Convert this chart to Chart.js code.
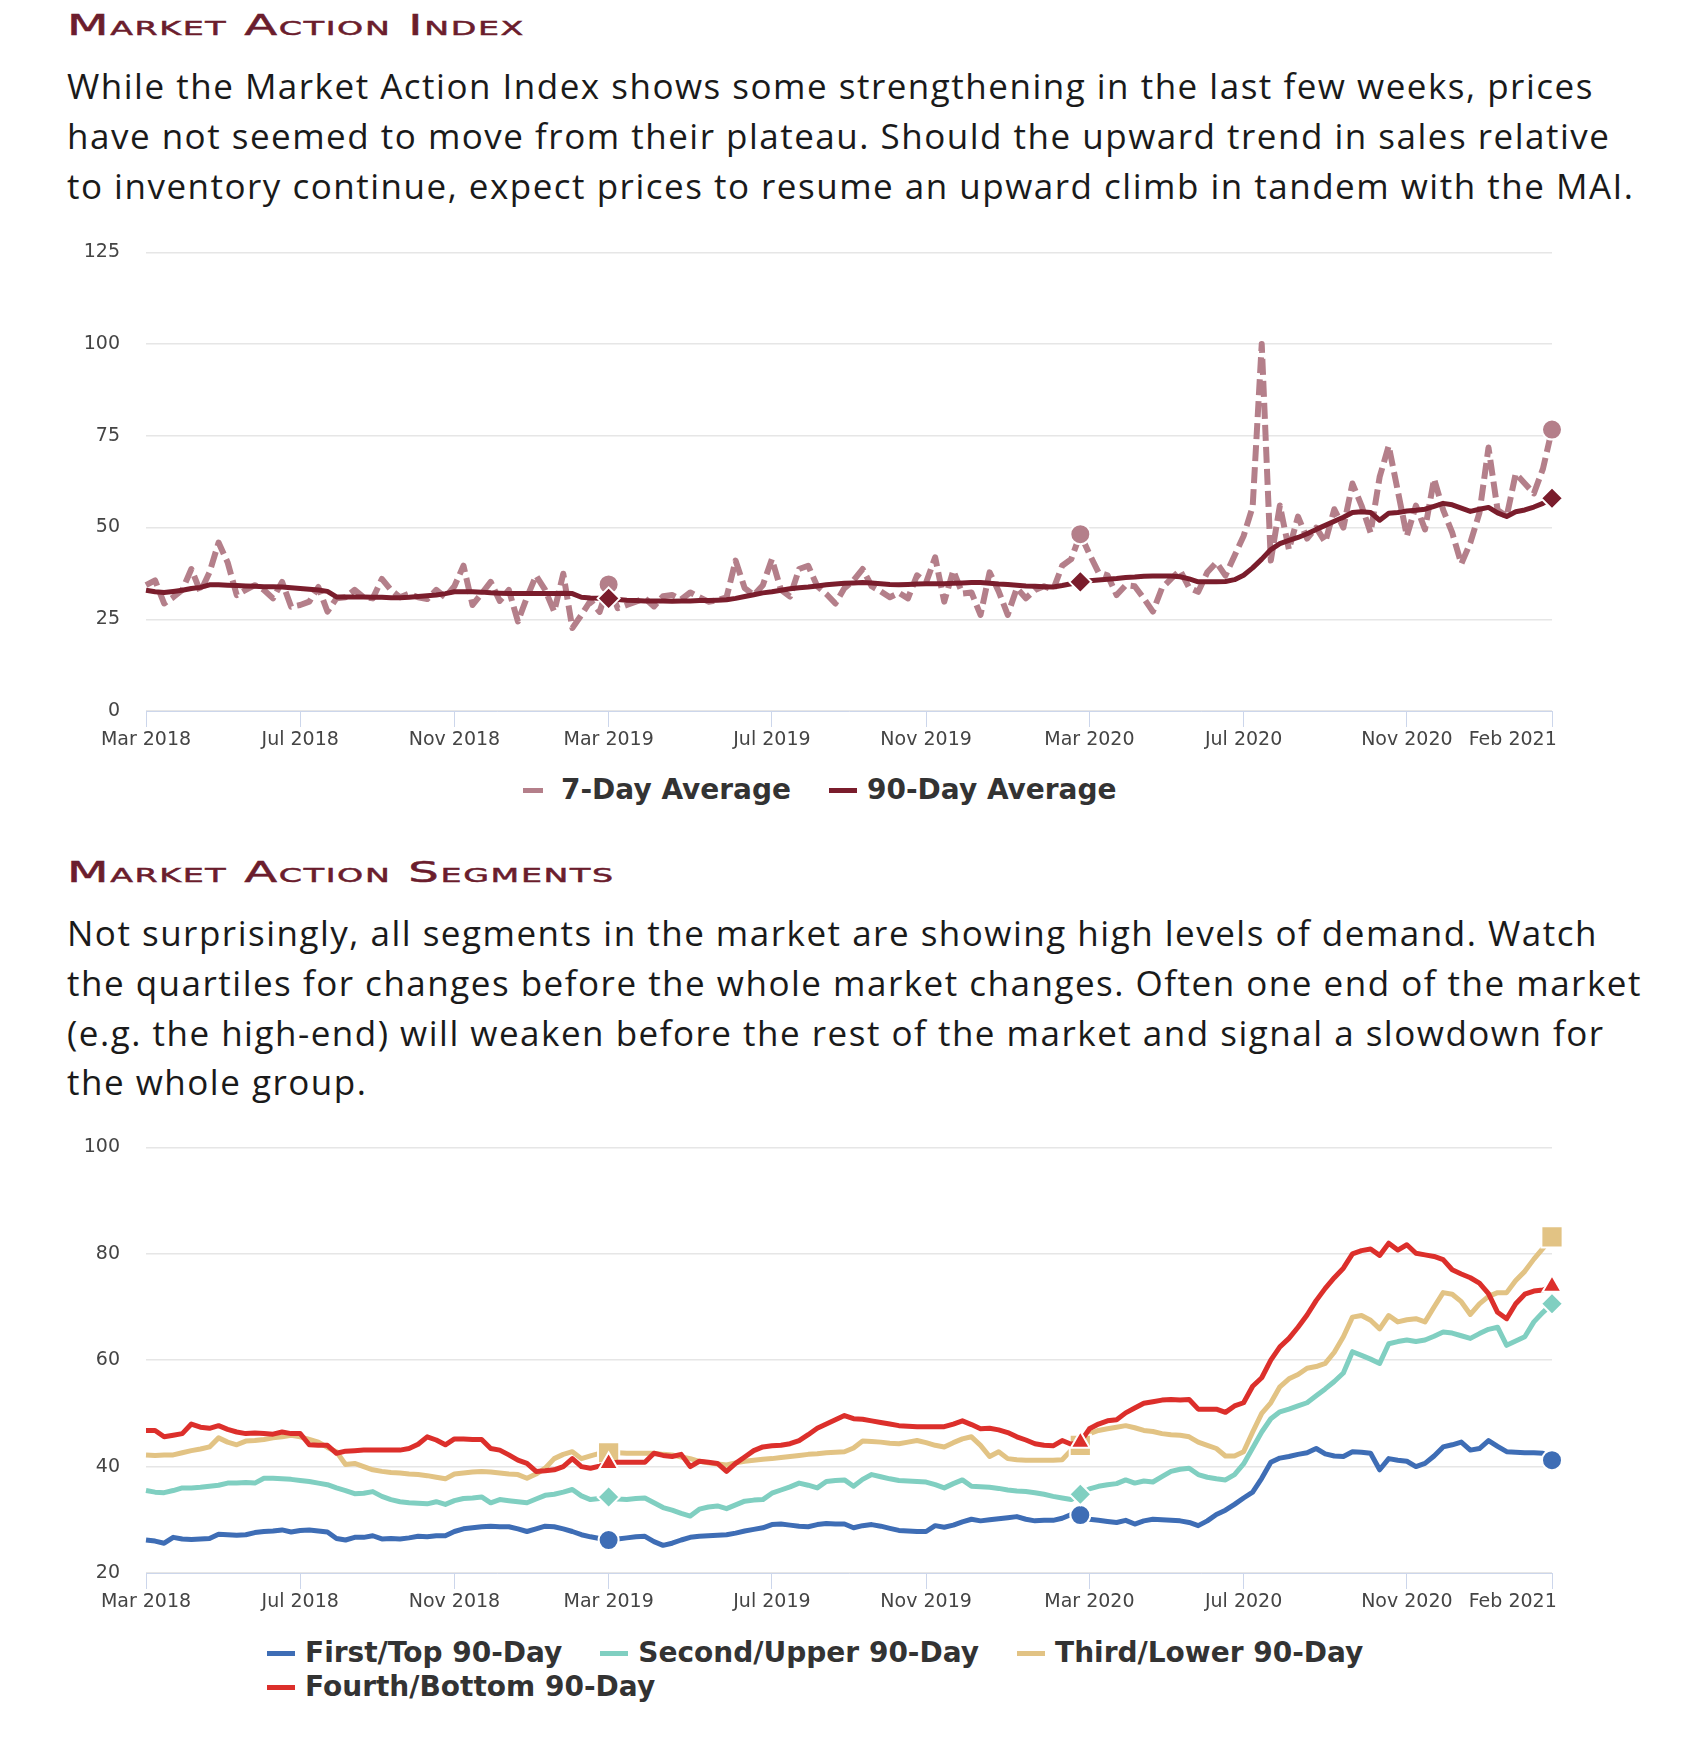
<!DOCTYPE html>
<html>
<head>
<meta charset="utf-8">
<script src="https://cdn.jsdelivr.net/npm/chart.js"></script>
<style>
  html, body { margin: 0; padding: 0; background: #fff; }
  body { width: 1700px; height: 1742px; position: relative; overflow: hidden; }
  .title { position: absolute; left: 67px; font-family: 'DejaVu Sans'; font-size: 29px; line-height: 29px;
    font-variant: small-caps; letter-spacing: 1px; color: #6b1d2d; transform: scaleX(1.66);
    transform-origin: 0 0; white-space: nowrap; -webkit-text-stroke: 0.5px #6b1d2d; }
  .para { position: absolute; left: 67px; font-family: 'Open Sans'; font-size: 35px; line-height: 49.8px;
    letter-spacing: 1.5px; color: #1a1a1a; white-space: nowrap; }
  canvas { position: absolute; left: 0; }
  .legend { position: absolute; display: flex; flex-wrap: wrap; column-gap: 38px; font-family: 'DejaVu Sans';
    font-weight: bold; font-size: 28px; line-height: 34px; color: #333; }
  .legend .item { display: flex; align-items: center; white-space: nowrap; }
  .legend .sym { display: inline-block; width: 28px; height: 5px; margin-right: 10px; }
</style>
</head>
<body>
<div class="title" style="top:11px">Market Action Index</div>
<div class="para" style="top:61px">While the Market Action Index shows some strengthening in the last few weeks, prices<br>have not seemed to move from their plateau. Should the upward trend in sales relative<br>to inventory continue, expect prices to resume an upward climb in tandem with the MAI.</div>
<canvas id="mai" width="1700" height="545" style="top:215px"></canvas>
<div id="mai-legend" class="legend" style="left:523px; top:773px"></div>

<div class="title" style="top:858px">Market Action Segments</div>
<div class="para" style="top:908px">Not surprisingly, all segments in the market are showing high levels of demand. Watch<br>the quartiles for changes before the whole market changes. Often one end of the market<br>(e.g. the high-end) will weaken before the rest of the market and signal a slowdown for<br>the whole group.</div>
<canvas id="seg" width="1700" height="512" style="top:1110px"></canvas>
<div id="seg-legend" class="legend" style="left:267px; top:1636px; width:1170px"></div>

<script>
// weekly points, first week of March 2018 to late Feb 2021
const weeks = [];
for (let d = new Date(2018, 2, 4); weeks.length < 156; d.setDate(d.getDate() + 7)) {
  weeks.push(d.toISOString().slice(0, 10));
}

const tickIndex = [0, 17, 34, 51, 69, 86, 104, 121, 139, 155];
const tickLabels = ['Mar 2018', 'Jul 2018', 'Nov 2018', 'Mar 2019', 'Jul 2019',
  'Nov 2019', 'Mar 2020', 'Jul 2020', 'Nov 2020', 'Feb 2021'];
const markerIndex = [51, 103, 155];

const sevenDay = [
  34.3, 35.6, 29.3, 31.0, 33.0, 38.7, 32.5, 37.8, 45.9, 40.5,
  31.6, 33.0, 34.3, 33.0, 30.7, 35.2, 28.4, 28.9, 29.8, 33.8,
  27.1, 30.7, 31.0, 33.0, 31.0, 30.7, 36.0, 33.0, 31.0, 32.0,
  31.0, 30.5, 33.0, 31.0, 34.0, 39.6, 28.9, 32.0, 35.2, 30.0,
  33.0, 24.4, 31.0, 36.9, 33.0, 27.1, 37.4, 22.6, 26.2, 30.0,
  27.0, 34.5, 28.0, 28.9, 29.8, 30.7, 28.5, 31.3, 31.6, 30.4,
  32.3, 31.0, 29.8, 30.2, 31.0, 41.0, 33.5, 31.6, 34.3, 41.4,
  33.0, 31.2, 38.7, 39.6, 34.0, 31.9, 29.3, 33.5, 35.6, 38.7,
  34.0, 32.6, 31.0, 32.2, 30.7, 37.0, 35.0, 41.9, 29.8, 38.3,
  32.0, 32.3, 26.2, 37.8, 32.6, 26.2, 33.5, 30.7, 33.0, 34.0,
  33.0, 39.6, 41.4, 48.2, 42.8, 37.8, 37.0, 31.6, 34.3, 34.0,
  30.7, 27.1, 33.5, 36.0, 38.3, 33.6, 32.5, 37.8, 40.5, 36.9,
  42.3, 47.7, 55.7, 100.0, 41.0, 56.0, 44.0, 53.0, 47.0, 50.0,
  46.0, 55.0, 50.0, 62.0, 56.0, 48.6, 63.8, 72.3, 60.0, 47.7,
  56.0, 49.5, 63.3, 54.8, 48.6, 40.1, 45.9, 54.0, 71.8, 54.8,
  53.0, 64.7, 62.0, 59.3, 66.0, 76.7
];

const ninetyDay = [
  32.9, 32.5, 32.3, 32.6, 32.9, 33.4, 33.7, 34.4, 34.4, 34.3,
  34.2, 34.1, 34.0, 33.9, 33.9, 33.8, 33.6, 33.4, 33.2, 33.0,
  32.6, 31.1, 31.1, 31.1, 31.1, 31.0, 31.0, 30.9, 30.9, 31.0,
  31.2, 31.4, 31.6, 32.0, 32.5, 32.5, 32.5, 32.4, 32.2, 32.1,
  32.0, 32.0, 32.0, 32.0, 32.0, 32.0, 32.1, 32.0, 31.0, 30.8,
  30.7, 30.7, 30.4, 30.2, 30.1, 30.0, 30.0, 30.0, 29.9, 30.0,
  30.0, 30.1, 30.1, 30.2, 30.3, 30.7, 31.2, 31.7, 32.2, 32.5,
  32.9, 33.3, 33.6, 33.8, 34.1, 34.4, 34.6, 34.8, 34.9, 35.0,
  34.9, 34.7, 34.5, 34.4, 34.5, 34.6, 34.7, 34.7, 34.7, 34.8,
  34.9, 35.0, 35.0, 34.8, 34.6, 34.5, 34.3, 34.1, 34.0, 33.9,
  33.8, 34.2, 34.7, 35.2, 35.5, 35.7, 35.9, 36.1, 36.4, 36.5,
  36.7, 36.8, 36.8, 36.8, 36.6, 36.0, 35.2, 35.2, 35.2, 35.3,
  35.8, 37.0, 39.0, 41.4, 44.0, 45.6, 46.5, 47.3, 48.3, 49.5,
  50.6, 51.7, 52.8, 54.1, 54.3, 54.1, 52.0, 53.9, 54.1, 54.5,
  54.7, 55.0, 55.8, 56.6, 56.2, 55.3, 54.4, 55.0, 55.5, 54.0,
  53.0, 54.3, 54.8, 55.6, 56.6, 58.0
];

const firstTop = [
  26.2, 26.0, 25.6, 26.7, 26.4, 26.3, 26.4, 26.5, 27.3, 27.2,
  27.1, 27.2, 27.6, 27.8, 27.9, 28.1, 27.7, 28.0, 28.1, 27.9,
  27.7, 26.5, 26.2, 26.7, 26.7, 27.0, 26.4, 26.5, 26.4, 26.6,
  26.9, 26.8, 27.0, 27.0, 27.8, 28.3, 28.5, 28.7, 28.8, 28.7,
  28.7, 28.3, 27.8, 28.3, 28.8, 28.7, 28.3, 27.8, 27.2, 26.8,
  26.5, 26.2, 26.4, 26.6, 26.8, 26.9, 25.9, 25.2, 25.6, 26.2,
  26.7, 26.9, 27.0, 27.1, 27.2, 27.5, 27.9, 28.2, 28.5, 29.1,
  29.2, 29.0, 28.8, 28.7, 29.1, 29.3, 29.2, 29.2, 28.5, 28.9,
  29.1, 28.8, 28.4, 28.0, 27.9, 27.8, 27.8, 28.9, 28.6, 29.0,
  29.6, 30.1, 29.8, 30.0, 30.2, 30.4, 30.6, 30.1, 29.8, 29.9,
  29.9, 30.3, 31.0, 30.9, 30.1, 29.9, 29.7, 29.5, 29.9, 29.2,
  29.8, 30.1, 30.0, 29.9, 29.8, 29.5, 28.9, 29.8, 31.0, 31.8,
  32.9, 34.1, 35.2, 37.8, 40.8, 41.6, 41.9, 42.3, 42.6, 43.4,
  42.4, 42.0, 41.9, 42.8, 42.7, 42.5, 39.4, 41.5, 41.2, 41.0,
  40.0, 40.6, 42.0, 43.7, 44.1, 44.6, 43.1, 43.4, 44.9, 43.8,
  42.8, 42.7, 42.6, 42.6, 42.5, 41.2
];

const secondUpper = [
  35.5, 35.2, 35.1, 35.5, 36.0, 36.0, 36.1, 36.3, 36.5, 36.9,
  36.9, 37.0, 36.9, 37.8, 37.8, 37.7, 37.6, 37.4, 37.2, 36.9,
  36.6, 36.0, 35.5, 34.9, 35.0, 35.3, 34.4, 33.8, 33.4, 33.2,
  33.1, 33.0, 33.4, 32.9, 33.6, 34.0, 34.1, 34.3, 33.2, 33.8,
  33.6, 33.4, 33.2, 33.9, 34.6, 34.8, 35.2, 35.7, 34.5, 33.8,
  34.0, 34.3, 33.9, 33.8, 34.0, 34.1, 33.2, 32.3, 31.8, 31.2,
  30.7, 32.0, 32.4, 32.6, 32.1, 32.8, 33.5, 33.7, 33.8, 35.0,
  35.6, 36.2, 36.9, 36.5, 36.0, 37.2, 37.4, 37.5, 36.3, 37.6,
  38.5, 38.1, 37.7, 37.4, 37.3, 37.2, 37.1, 36.6, 36.0, 36.8,
  37.5, 36.3, 36.2, 36.1, 35.9, 35.6, 35.4, 35.3, 35.1, 34.8,
  34.4, 34.1, 33.8, 34.8, 35.8, 36.3, 36.6, 36.8, 37.5, 36.9,
  37.3, 37.1, 38.1, 39.1, 39.5, 39.7, 38.5, 38.0, 37.7, 37.5,
  38.5, 40.5, 43.5, 46.5, 49.0, 50.3, 50.8, 51.4, 52.0, 53.3,
  54.6, 56.0, 57.6, 61.6, 60.9, 60.2, 59.4, 63.1, 63.5, 63.8,
  63.5, 63.8, 64.5, 65.3, 65.1, 64.6, 64.1, 65.0, 65.8, 66.2,
  62.8, 63.6, 64.4, 67.2, 69.0, 70.6
];

const thirdLower = [
  42.2, 42.1, 42.2, 42.2, 42.6, 43.0, 43.3, 43.7, 45.4, 44.6,
  44.1, 44.8, 44.9, 45.1, 45.4, 45.6, 45.9, 45.6, 45.1, 44.6,
  43.6, 42.8, 40.4, 40.6, 40.0, 39.4, 39.1, 38.9, 38.8, 38.6,
  38.5, 38.3, 38.0, 37.7, 38.6, 38.8, 39.0, 39.1, 39.0, 38.8,
  38.6, 38.5, 37.8, 38.6, 39.7, 41.5, 42.3, 42.8, 41.5, 42.0,
  42.5, 42.6, 42.6, 42.5, 42.5, 42.5, 42.5, 42.3, 42.2, 41.8,
  41.5, 41.0, 40.7, 40.5, 40.3, 40.7, 41.0, 41.2, 41.4, 41.5,
  41.7, 41.9, 42.1, 42.3, 42.4, 42.6, 42.7, 42.8, 43.5, 44.8,
  44.7, 44.6, 44.4, 44.3, 44.6, 44.9, 44.5, 44.0, 43.7, 44.5,
  45.2, 45.6, 44.0, 41.9, 42.8, 41.5, 41.3, 41.2, 41.2, 41.2,
  41.2, 41.3, 43.1, 44.0, 46.2, 46.8, 47.1, 47.4, 47.7, 47.3,
  46.8, 46.6, 46.2, 46.0, 45.9, 45.6, 44.6, 44.0, 43.4, 42.0,
  42.0, 42.8, 46.5, 50.0, 52.0, 55.0, 56.5, 57.3, 58.5, 58.8,
  59.4, 61.5, 64.4, 68.1, 68.4, 67.5, 65.9, 68.4, 67.2, 67.6,
  67.8, 67.2, 70.0, 72.7, 72.4, 71.0, 68.6, 70.6, 72.0, 72.7,
  72.7, 75.0, 76.7, 79.0, 81.0, 83.2
];

const fourthBottom = [
  46.8, 46.8, 45.6, 45.9, 46.2, 48.0, 47.4, 47.2, 47.7, 47.0,
  46.5, 46.2, 46.3, 46.2, 46.1, 46.5, 46.2, 46.2, 44.1, 44.0,
  44.0, 42.5, 42.9, 43.0, 43.1, 43.1, 43.1, 43.1, 43.1, 43.4,
  44.2, 45.6, 45.0, 44.1, 45.2, 45.2, 45.1, 45.1, 43.4, 43.1,
  42.2, 41.2, 40.6, 39.1, 39.2, 39.4, 40.0, 41.5, 40.0, 39.7,
  40.1, 40.6, 40.8, 40.8, 40.8, 40.8, 42.5, 42.1, 41.9, 42.3,
  40.0, 41.0, 40.8, 40.6, 39.1, 40.6, 41.8, 43.0, 43.7, 43.9,
  44.0, 44.3, 44.9, 46.0, 47.2, 48.0, 48.8, 49.6, 49.0, 48.9,
  48.6, 48.3, 48.0, 47.7, 47.6, 47.5, 47.5, 47.5, 47.5, 48.0,
  48.6, 47.9, 47.1, 47.2, 46.9, 46.4, 45.6, 45.0, 44.3, 44.0,
  43.9, 44.9, 44.2, 44.6, 47.1, 48.0, 48.6, 48.8, 50.1, 51.0,
  51.9, 52.2, 52.5, 52.6, 52.5, 52.6, 50.8, 50.8, 50.8, 50.2,
  51.4, 52.0, 55.1, 56.7, 60.0, 62.5, 64.1, 66.2, 68.5, 71.2,
  73.5, 75.5, 77.3, 80.0, 80.6, 80.9, 79.7, 82.0, 80.7, 81.7,
  80.1, 79.8, 79.5, 78.9, 77.0, 76.2, 75.5, 74.5, 72.5, 69.0,
  67.8, 70.6, 72.4, 73.0, 73.2, 73.9
];

const tickFont = { family: 'DejaVu Sans', size: 19 };

// legend drawn as html so the second row can start flush left
const htmlLegend = {
  id: 'htmlLegend',
  afterUpdate(chart, args, opts) {
    const box = document.getElementById(opts.containerID);
    box.innerHTML = '';
    chart.data.datasets.forEach(ds => {
      const item = document.createElement('div');
      item.className = 'item';
      const sym = document.createElement('span');
      sym.className = 'sym';
      sym.style.background = ds.borderDash
        ? `linear-gradient(to right, ${ds.borderColor} 0 20px, transparent 20px)`
        : ds.borderColor;
      const txt = document.createElement('span');
      txt.textContent = ds.label;
      item.append(sym, txt);
      box.appendChild(item);
    });
  }
};

function markers(r) {
  return ctx => markerIndex.includes(ctx.dataIndex) ? r : 0;
}

function xAxis() {
  return {
    type: 'category',
    offset: false,
    grid: { drawOnChartArea: false, drawTicks: true, tickLength: 16, color: '#ccd6eb' },
    border: { display: true, color: '#ccd6eb', width: 1 },
    ticks: {
      autoSkip: false, maxRotation: 0, minRotation: 0, padding: 2,
      color: '#444', font: tickFont,
      callback: v => {
        const k = tickIndex.indexOf(v);
        // last label sits left of its tick, as in the report
        return k === tickIndex.length - 1 ? tickLabels[k] + ' '.repeat(13) : tickLabels[k];
      }
    },
    afterBuildTicks: s => { s.ticks = s.ticks.filter(t => tickIndex.includes(t.value)); },
    afterFit: s => { s.height = 49; }
  };
}

function yAxis(min, max, step) {
  return {
    min: min, max: max,
    ticks: { stepSize: step, padding: 26, color: '#444', font: tickFont },
    grid: { color: '#e6e6e6', lineWidth: 1.5, drawTicks: false },
    border: { display: false },
    afterFit: s => { s.width = 146; }
  };
}

function line(label, data, color, style, r, order, extra) {
  return Object.assign({
    label: label, data: data,
    borderColor: color, backgroundColor: color,
    borderWidth: 5, tension: 0, borderJoinStyle: 'round',
    pointStyle: style, pointRadius: markers(r), pointHoverRadius: markers(r),
    pointBackgroundColor: color, pointBorderColor: '#fff', pointBorderWidth: 2,
    order: order
  }, extra || {});
}

function baseOptions(min, max, step, legendId, padTop) {
  return {
    responsive: false,
    animation: false,
    devicePixelRatio: 1,
    layout: { padding: { top: padTop, left: 0, right: 148, bottom: 0 } },
    plugins: {
      legend: { display: false },
      tooltip: { enabled: false },
      htmlLegend: { containerID: legendId }
    },
    scales: { x: xAxis(), y: yAxis(min, max, step) }
  };
}

new Chart(document.getElementById('mai'), {
  type: 'line',
  data: {
    labels: weeks,
    datasets: [
      line('7-Day Average', sevenDay, '#b47f8a', 'circle', 10, 1, { borderWidth: 6, borderDash: [16, 6] }),
      line('90-Day Average', ninetyDay, '#7a1d2c', 'rectRot', 11, 0)
    ]
  },
  options: baseOptions(0, 125, 25, 'mai-legend', 30),
  plugins: [htmlLegend]
});

new Chart(document.getElementById('seg'), {
  type: 'line',
  data: {
    labels: weeks,
    datasets: [
      line('First/Top 90-Day', firstTop, '#3e6db5', 'circle', 10, 3),
      line('Second/Upper 90-Day', secondUpper, '#80cfc1', 'rectRot', 11, 2),
      line('Third/Lower 90-Day', thirdLower, '#e2c384', 'rect', 15, 1),
      line('Fourth/Bottom 90-Day', fourthBottom, '#dc2f2b', 'triangle', 11, 0)
    ]
  },
  options: baseOptions(20, 100, 20, 'seg-legend', 31),
  plugins: [htmlLegend]
});
</script>
</body>
</html>
